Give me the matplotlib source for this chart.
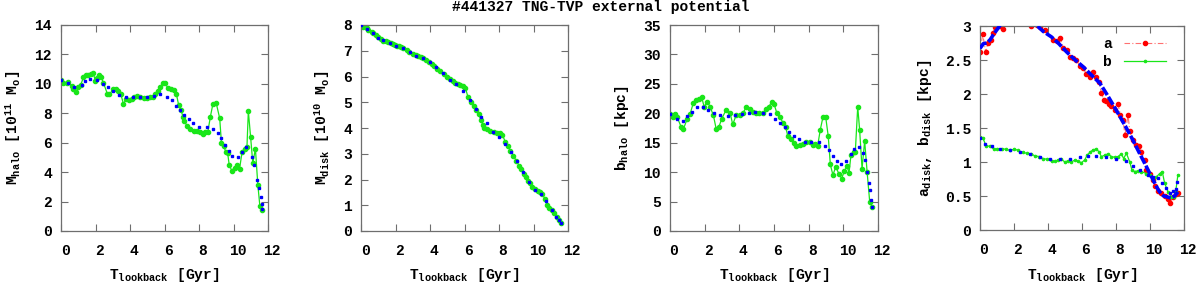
import matplotlib
matplotlib.use('Agg')
import matplotlib.pyplot as plt
from matplotlib.transforms import ScaledTranslation
from matplotlib.ticker import MultipleLocator, FuncFormatter
from matplotlib.lines import Line2D

plt.rcParams['font.family'] = ['Liberation Mono', 'DejaVu Sans Mono']
plt.rcParams['font.weight'] = 'bold'
plt.rcParams['mathtext.fontset'] = 'custom'
plt.rcParams['mathtext.rm'] = 'Liberation Mono:bold'
plt.rcParams['mathtext.it'] = 'Liberation Mono:bold'
plt.rcParams['mathtext.bf'] = 'Liberation Mono:bold'
plt.rcParams['mathtext.default'] = 'rm'

# ---------------- data ----------------
title = "#441327 TNG-TVP external potential"

# Panel 1: M_halo
t_mhalo = [0, 0.14, 0.33, 0.43, 0.62, 0.72, 0.85, 1.0, 1.14, 1.3, 1.45, 1.59, 1.74, 1.88, 1.98,
           2.11, 2.21, 2.33, 2.46, 2.69, 2.81, 3.04, 3.2, 3.33, 3.47, 3.62, 3.78, 3.97, 4.11, 4.26,
           4.4, 4.59, 4.79, 4.98, 5.14, 5.33, 5.47, 5.6, 5.76, 5.89, 6.05, 6.2, 6.38, 6.53, 6.69,
           6.82, 6.96, 7.07, 7.15, 7.31, 7.5, 7.69, 7.89, 8.04, 8.24, 8.37, 8.51, 8.66, 8.8, 9.0,
           9.2, 9.3, 9.44, 9.55, 9.66, 9.75, 9.9, 10.06, 10.2, 10.35, 10.5, 10.64, 10.78, 10.86,
           10.99, 11.12, 11.27, 11.41, 11.53, 11.67]
mhalo = [10.24, 10.08, 10.08, 10.1, 9.85, 9.63, 9.45, 9.76, 9.92, 10.44, 10.58, 10.58, 10.67, 10.74, 10.2,
         10.37, 10.6, 10.44, 10.08, 9.31, 9.31, 9.63, 9.63, 9.54, 9.29, 8.63, 8.97, 8.93, 8.95, 9.13,
         9.2, 9.11, 9.06, 9.06, 9.08, 9.08, 9.29, 9.54, 9.76, 10.08, 10.03, 9.7, 9.67, 9.56, 9.31,
         8.56, 8.2, 7.77, 7.5, 7.12, 6.95, 6.82, 6.8, 6.75, 6.6, 6.71, 6.72, 7.77, 8.6, 8.68,
         7.66, 6.0, 5.75, 5.39, 5.3, 4.5, 4.1, 4.3, 4.5, 4.22, 5.39, 5.6, 5.72, 8.16,
         6.41, 4.6, 5.6, 3.15, 1.68, 1.4]
t_mhalo_fit = [0, 0.43, 0.75, 1.2, 1.4, 1.69, 2.07, 2.46, 2.75, 3.04, 3.39, 3.78, 4.2, 4.59, 4.98,
               5.37, 5.76, 6.14, 6.43, 6.69, 6.92, 7.15, 7.4, 7.65, 8.02, 8.47, 8.82, 9.1, 9.3, 9.52,
               9.72, 9.92, 10.27, 10.52, 10.74, 11.05, 11.18, 11.37, 11.47, 11.57, 11.63, 11.67]
mhalo_fit = [10.24, 10.03, 9.8, 9.95, 10.2, 10.33, 10.26, 10.0, 9.76, 9.54, 9.24, 9.13, 9.08, 9.08, 9.13,
             9.17, 9.29, 9.13, 8.9, 8.5, 8.2, 7.9, 7.6, 7.32, 7.09, 7.05, 6.93, 6.64, 6.3, 5.85,
             5.46, 5.1, 5.05, 5.39, 5.69, 5.0, 4.49, 3.47, 2.9, 2.33, 1.84, 1.5]

# Panel 2: M_disk
t_mdisk = [0, 0.14, 0.33, 0.43, 0.62, 0.72, 0.85, 1.0, 1.14, 1.3, 1.45, 1.59, 1.74, 1.88, 1.98,
           2.11, 2.21, 2.33, 2.46, 2.69, 2.81, 3.04, 3.2, 3.33, 3.47, 3.62, 3.78, 3.97, 4.11, 4.26,
           4.4, 4.59, 4.79, 4.98, 5.14, 5.33, 5.47, 5.6, 5.76, 5.89, 6.05, 6.2, 6.38, 6.53, 6.69,
           6.82, 6.96, 7.07, 7.15, 7.31, 7.5, 7.69, 7.89, 8.04, 8.2, 8.37, 8.51, 8.66, 8.82, 9.01,
           9.17, 9.3, 9.44, 9.55, 9.69, 9.79, 9.92, 10.08, 10.25, 10.37, 10.52, 10.66, 10.79, 10.92,
           11.05, 11.2, 11.35, 11.5, 11.62]
mdisk = [8.0, 7.93, 7.87, 7.8, 7.74, 7.7, 7.6, 7.52, 7.45, 7.39, 7.36, 7.33, 7.3, 7.26, 7.23,
         7.2, 7.18, 7.15, 7.12, 7.03, 6.97, 6.88, 6.82, 6.78, 6.75, 6.7, 6.65, 6.56, 6.48, 6.4,
         6.31, 6.22, 6.11, 6.0, 5.9, 5.82, 5.76, 5.71, 5.66, 5.62, 5.57, 5.2, 5.02, 4.86, 4.68,
         4.55, 4.3, 4.12, 4.01, 3.95, 3.9, 3.85, 3.82, 3.79, 3.73, 3.45, 3.3, 3.12, 2.93, 2.72,
         2.53, 2.4, 2.2, 2.08, 1.95, 1.86, 1.72, 1.62, 1.56, 1.5, 1.42, 1.25, 1.0, 0.9,
         0.8, 0.68, 0.55, 0.43, 0.33]
t_mdisk_fit = [0, 0.35, 0.7, 1.0, 1.3, 1.7, 2.05, 2.45, 2.85, 3.2, 3.6, 4.0, 4.35, 4.75, 5.15, 5.5,
               5.93, 6.3, 6.65, 6.95, 7.3, 7.65, 8.0, 8.35, 8.7, 9.05, 9.4, 9.75, 10.1, 10.45, 10.75,
               11.05, 11.3, 11.5, 11.62]
mdisk_fit = [8.0, 7.85, 7.7, 7.5, 7.4, 7.3, 7.2, 7.1, 6.95, 6.8, 6.7, 6.55, 6.35, 6.12, 5.88, 5.72,
             5.42, 5.1, 4.75, 4.42, 4.2, 3.85, 3.65, 3.38, 3.05, 2.7, 2.3, 1.9, 1.6, 1.45, 1.15,
             0.8, 0.55, 0.42, 0.33]

# Panel 3: b_halo
t_bhalo = [0, 0.15, 0.29, 0.42, 0.64, 0.77, 1.0, 1.16, 1.35, 1.5, 1.68, 1.83, 1.97, 2.16, 2.31,
           2.5, 2.66, 2.81, 2.99, 3.24, 3.47, 3.62, 3.82, 4.01, 4.2, 4.39, 4.59, 4.78, 4.97, 5.16,
           5.36, 5.55, 5.7, 5.86, 6.01, 6.17, 6.36, 6.51, 6.67, 6.8, 6.98, 7.13, 7.28, 7.48, 7.67,
           7.86, 8.05, 8.25, 8.38, 8.52, 8.67, 8.82, 8.98, 9.13, 9.25, 9.4, 9.56, 9.75, 9.9, 10.06,
           10.21, 10.33, 10.44, 10.6, 10.69, 10.83, 10.94, 11.08, 11.23, 11.37, 11.52, 11.66]
bhalo = [19.9, 19.4, 19.8, 19.3, 17.7, 17.3, 19.1, 19.9, 21.8, 22.3, 22.4, 22.7, 21.1, 22.0, 21.1,
         19.7, 17.4, 17.6, 19.1, 20.6, 20.0, 18.1, 19.7, 19.7, 20.0, 21.0, 20.7, 20.2, 20.0, 20.0,
         20.0, 20.7, 21.1, 21.9, 21.5, 20.0, 19.3, 18.4, 17.7, 16.1, 15.6, 14.9, 14.5, 14.6, 14.8,
         15.1, 15.1, 14.6, 14.8, 14.5, 17.2, 19.3, 19.4, 16.1, 11.3, 9.5, 10.9, 9.7, 8.9, 10.2,
         11.0, 9.9, 12.9, 13.5, 13.4, 21.1, 17.2, 10.6, 15.3, 10.1, 5.0, 4.1]
t_bhalo_fit = [0, 0.42, 0.73, 1.0, 1.25, 1.54, 1.93, 2.22, 2.54, 2.89, 3.33, 3.76, 4.14, 4.53, 4.91,
               5.36, 5.78, 6.07, 6.36, 6.61, 6.84, 7.13, 7.42, 7.76, 8.15, 8.57, 8.92, 9.15, 9.4, 9.63,
               9.88, 10.17, 10.44, 10.64, 10.89, 11.12, 11.23, 11.37, 11.46, 11.52, 11.6, 11.66]
bhalo_fit = [19.9, 19.1, 18.7, 19.5, 20.3, 21.0, 21.1, 20.6, 20.0, 19.7, 19.5, 19.7, 19.8, 20.1, 20.2,
             20.1, 19.8, 19.1, 18.4, 17.6, 16.8, 16.1, 15.6, 15.2, 15.2, 15.2, 14.5, 13.8, 12.8, 11.9,
             11.3, 11.9, 13.1, 13.9, 14.3, 13.3, 12.1, 10.1, 8.2, 7.0, 5.3, 4.1]

# Panel 4: a_disk (a), b_disk (b)
t_adisk = [0, 0.16, 0.33, 0.47, 0.62, 0.76, 0.9, 1.05, 1.2, 1.33, 1.5, 1.7, 1.9, 2.1, 2.3, 2.5, 2.7,
           2.85, 3.0, 3.2, 3.35, 3.52, 3.82, 4.3, 4.5, 4.7, 4.9, 5.09, 5.28, 5.48, 5.67, 5.87, 6.07,
           6.26, 6.46, 6.65, 6.85, 7.0, 7.14, 7.28, 7.44, 7.59, 7.73, 7.93, 8.12, 8.26, 8.41, 8.53,
           8.71, 8.81, 9.0, 9.2, 9.35, 9.49, 9.69, 9.78, 9.98, 10.18, 10.31, 10.47, 10.67, 10.86,
           11.06, 11.19, 11.35, 11.51, 11.64]
adisk = [2.62, 2.88, 2.62, 2.75, 2.8, 2.9, 2.99, 3.1, 3.0, 2.96, 3.15, 3.2, 3.25, 3.2, 3.28, 3.2, 3.15,
         3.08, 3.0, 3.06, 3.02, 2.98, 2.94, 2.79, 2.78, 2.83, 2.68, 2.65, 2.55, 2.53, 2.5, 2.41, 2.38,
         2.29, 2.25, 2.33, 2.25, 2.18, 2.02, 1.91, 1.89, 1.86, 1.82, 1.76, 1.85, 1.69, 1.62, 1.4,
         1.69, 1.45, 1.32, 1.25, 1.24, 1.14, 1.03, 0.88, 0.83, 0.74, 0.64, 0.58, 0.54, 0.5,
         0.46, 0.39, 0.49, 0.53, 0.55]
t_adisk_fit = [0, 0.2, 0.4, 0.6, 0.78, 0.95, 1.07, 1.3, 1.7, 2.1, 2.5, 2.9, 3.2, 3.42, 3.72, 4.2, 4.6,
               5.09, 5.6, 6.07, 6.55, 7.05, 7.5, 8.02, 8.5, 9.0, 9.4, 9.69, 9.95, 10.18, 10.4, 10.57,
               10.8, 10.96, 11.25, 11.45, 11.64]
adisk_fit = [2.67, 2.74, 2.75, 2.8, 2.87, 2.93, 2.97, 3.05, 3.15, 3.2, 3.17, 3.1, 3.03, 2.99, 2.92,
             2.84, 2.75, 2.62, 2.5, 2.4, 2.28, 2.16, 1.98, 1.76, 1.55, 1.32, 1.12, 0.98, 0.85, 0.74,
             0.63, 0.56, 0.5, 0.49, 0.47, 0.5, 0.56]
t_bdisk = [0, 0.16, 0.35, 0.59, 0.82, 1.02, 1.27, 1.53, 1.76, 2.02, 2.25, 2.5, 2.74, 3.0, 3.23, 3.48,
           3.72, 3.97, 4.21, 4.4, 4.6, 4.79, 4.99, 5.19, 5.38, 5.58, 5.77, 5.97, 6.16, 6.3, 6.46,
           6.65, 6.85, 7.0, 7.14, 7.34, 7.53, 7.73, 7.93, 8.12, 8.32, 8.45, 8.61, 8.81, 8.94, 9.1,
           9.3, 9.49, 9.78, 10.02, 10.18, 10.37, 10.57, 10.72, 10.86, 11.06, 11.25, 11.39, 11.51, 11.64]
bdisk = [1.37, 1.36, 1.24, 1.23, 1.19, 1.19, 1.19, 1.19, 1.17, 1.19, 1.17, 1.14, 1.13, 1.12, 1.09, 1.08,
         1.05, 1.04, 1.01, 1.01, 1.03, 1.04, 1.0, 1.02, 1.0, 1.03, 1.01, 0.99, 1.03, 1.1, 1.14,
         1.18, 1.19, 1.15, 1.08, 1.1, 1.12, 1.08, 1.07, 1.08, 1.12, 1.05, 1.13, 1.0, 0.88, 0.86,
         0.87, 0.86, 0.83, 0.81, 0.74, 0.78, 0.83, 0.86, 0.69, 0.56, 0.49, 0.48, 0.56, 0.81]
t_bdisk_fit = [0, 0.29, 0.68, 1.17, 1.76, 2.35, 2.94, 3.52, 4.11, 4.7, 5.28, 5.87, 6.36, 6.85, 7.44,
               8.02, 8.57, 9.0, 9.39, 9.88, 10.18, 10.47, 10.7, 10.96, 11.19, 11.35, 11.51, 11.6]
bdisk_fit = [1.36, 1.27, 1.23, 1.19, 1.18, 1.15, 1.12, 1.08, 1.05, 1.04, 1.05, 1.08, 1.09, 1.09, 1.08,
             1.05, 1.02, 0.94, 0.88, 0.81, 0.78, 0.77, 0.69, 0.62, 0.55, 0.57, 0.6, 0.7]

xticks = [0, 2, 4, 6, 8, 10, 12]
xlabel = r'T$_{\mathrm{lookback}}$ [Gyr]'
ylabels = [r'M$_{\mathrm{halo}}$ [10$^{11}$ M$_{\mathrm{o}}$]',
           r'M$_{\mathrm{disk}}$ [10$^{10}$ M$_{\mathrm{o}}$]',
           r'b$_{\mathrm{halo}}$ [kpc]',
           r'a$_{\mathrm{disk}}$, b$_{\mathrm{disk}}$ [kpc]']

# ---------------- style ----------------
GREEN = '#19e619'
BLUE = '#0000ff'
RED = '#ff0000'
GRAY = '#6e6e6e'
FS = 10.5

W, H = 1200, 286
fig = plt.figure(figsize=(W / 100, H / 100), dpi=100)


def rect(l, r, t, b):
    return [l / W, 1 - b / H, (r - l) / W, (b - t) / H]


axes = [fig.add_axes(rect(61, 268, 25, 231)),
        fig.add_axes(rect(361, 568, 25, 231)),
        fig.add_axes(rect(670, 878, 25, 231)),
        fig.add_axes(rect(980, 1184, 26, 230))]

ylims = [(0, 14, 2), (0, 8, 1), (0, 35, 5), (0, 3, 0.5)]
ylab_x = [-0.2304, -0.186, -0.2308, -0.2696]

# panel 1
ax = axes[0]
ax.plot(t_mhalo, mhalo, '-', color=GREEN, lw=0.9, marker='o', ms=3.0, mec=GREEN, mfc=GREEN, zorder=2)
ax.plot(t_mhalo_fit, mhalo_fit, ls='none', marker='s', ms=1.6, color=BLUE, mec=BLUE, zorder=3)
# panel 2
ax = axes[1]
ax.plot(t_mdisk, mdisk, '-', color=GREEN, lw=0.9, marker='o', ms=3.0, mec=GREEN, mfc=GREEN, zorder=2)
ax.plot(t_mdisk_fit, mdisk_fit, ls='none', marker='s', ms=1.6, color=BLUE, mec=BLUE, zorder=3)
# panel 3
ax = axes[2]
ax.plot(t_bhalo, bhalo, '-', color=GREEN, lw=0.9, marker='o', ms=3.0, mec=GREEN, mfc=GREEN, zorder=2)
ax.plot(t_bhalo_fit, bhalo_fit, ls='none', marker='s', ms=1.6, color=BLUE, mec=BLUE, zorder=3)
# panel 4
ax = axes[3]
ax.plot(t_adisk, adisk, color='#ff7070', lw=0.8, dashes=(5, 2, 1, 2), marker='o', ms=3.0,
        mec=RED, mfc=RED, zorder=2)
ax.plot(t_adisk_fit, adisk_fit, color=BLUE, lw=2.6, dashes=(2.5, 0.6), zorder=3)
ax.plot(t_bdisk, bdisk, '-', color=GREEN, lw=0.9, marker='o', ms=1.6, mec=GREEN, mfc=GREEN, zorder=2)
ax.plot(t_bdisk_fit, bdisk_fit, ls='none', marker='s', ms=1.6, color=BLUE, mec=BLUE, zorder=4)

h_a = Line2D([], [], color='#ff7070', lw=0.8, dashes=(5, 2, 1, 2), marker='o', ms=3.0,
             mec=RED, mfc=RED)
h_b = Line2D([], [], color=GREEN, lw=0.9, marker='o', ms=1.6, mec=GREEN, mfc=GREEN)
ax.legend([h_a, h_b], ['a', 'b'], loc='upper right', frameon=False, markerfirst=False,
          bbox_to_anchor=((1166 - 980) / 204, (230 - 37) / 204), borderaxespad=0, borderpad=0,
          handlelength=2.9, handletextpad=0.8, labelspacing=0.25, numpoints=1,
          prop={'family': 'Liberation Mono', 'weight': 'bold', 'size': FS})

fmt = FuncFormatter(lambda v, p: f'{v:g}')
for i, ax in enumerate(axes):
    lo, hi, st = ylims[i]
    ax.set_xlim(0, 12)
    ax.set_ylim(lo, hi)
    ax.set_xticks(xticks)
    ax.xaxis.set_major_formatter(fmt)
    ax.yaxis.set_major_locator(MultipleLocator(st))
    ax.yaxis.set_major_formatter(fmt)
    for s in ax.spines.values():
        s.set_color(GRAY)
        s.set_linewidth(0.9)
    ax.tick_params(direction='in', length=5, width=0.8, color=GRAY, top=True, right=True,
                   labelsize=FS, labelcolor='black')
    ax.tick_params(axis='x', pad=9.5)
    ax.tick_params(axis='y', pad=6.5)
    for lab in ax.get_xticklabels() + ax.get_yticklabels():
        lab.set_fontweight('bold')
    pos = ax.get_position()
    ax.set_xlabel(xlabel, fontsize=FS, fontweight='bold', va='center')
    ax.xaxis.set_label_coords(0.5, ((H - 275.5) - pos.y0 * H) / (pos.height * H))
    ax.set_ylabel(ylabels[i], fontsize=FS, fontweight='bold', va='center', ha='center')
    ax.yaxis.set_label_coords(ylab_x[i], 0.5)
    off = ScaledTranslation(4 / 100, 0, fig.dpi_scale_trans)
    for lab in ax.get_xticklabels():
        lab.set_transform(lab.get_transform() + off)

fig.text(601 / W, 1 - 7.5 / H, title, ha='center', va='center', fontsize=FS, fontweight='bold')

fig.savefig('out.png', dpi=100)
